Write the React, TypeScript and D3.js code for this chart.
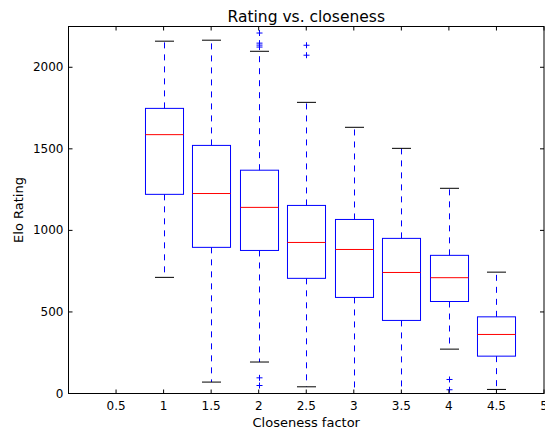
import React from "react";
import * as d3 from "d3";

// closeness factor for each box
const positions = [1, 1.5, 2, 2.5, 3, 3.5, 4, 4.5];
const whiskerLow = [712, 70, 193, 41, 0, 0, 272, 25];
const q1 = [1221, 896, 877, 706, 589, 448, 564, 229];
const median = [1587, 1226, 1141, 926, 883, 742, 710, 362];
const q3 = [1748, 1521, 1369, 1153, 1067, 951, 847, 470];
const whiskerHigh = [2160, 2166, 2098, 1785, 1632, 1503, 1258, 744];
const outliers = [
  [],
  [],
  [2210, 2148, 2136, 2124, 96, 49],
  [2135, 2074],
  [],
  [],
  [86, 23],
  [],
];

const xTicks = [0.5, 1, 1.5, 2, 2.5, 3, 3.5, 4, 4.5, 5];
const yTicks = [0, 500, 1000, 1500, 2000];

const W = 545;
const H = 432;
const margin = { top: 26.5, right: 1, bottom: 38.5, left: 68.5 };
const font = "'DejaVu Sans', sans-serif";

const App = () => {
  const x = d3
    .scaleLinear()
    .domain([0, 5])
    .range([margin.left, W - margin.right]);
  const y = d3
    .scaleLinear()
    .domain([0, 2250])
    .range([H - margin.bottom, margin.top]);

  const boxW = x(0.4) - x(0);
  const capW = x(0.2) - x(0);
  const blue = "#0000ff";

  return (
    <div style={{ position: "absolute", left: 0, top: 0 }}>
      <svg width={W} height={H} style={{ display: "block", background: "#fff" }}>
        {/* boxes */}
        {positions.map((p, i) => {
          const cx = Math.round(x(p)) + 0.5;
          return (
            <g key={p}>
              <line x1={cx} x2={cx} y1={y(q3[i])} y2={y(whiskerHigh[i])} stroke={blue} strokeDasharray="6,6" />
              <line x1={cx} x2={cx} y1={y(q1[i])} y2={y(whiskerLow[i])} stroke={blue} strokeDasharray="6,6" />
              <line x1={cx - capW / 2} x2={cx + capW / 2} y1={y(whiskerHigh[i])} y2={y(whiskerHigh[i])} stroke="#000" />
              <line x1={cx - capW / 2} x2={cx + capW / 2} y1={y(whiskerLow[i])} y2={y(whiskerLow[i])} stroke="#000" />
              <rect x={cx - boxW / 2} y={y(q3[i])} width={boxW} height={y(q1[i]) - y(q3[i])} fill="none" stroke={blue} />
              <line x1={cx - boxW / 2} x2={cx + boxW / 2} y1={y(median[i])} y2={y(median[i])} stroke="#ff0000" />
              {outliers[i].map((v, j) => (
                <path key={j} d={`M${cx - 3},${y(v)}h6M${cx},${y(v) - 3}v6`} stroke={blue} fill="none" />
              ))}
            </g>
          );
        })}

        {/* frame */}
        <rect
          x={margin.left}
          y={margin.top}
          width={W - margin.right - margin.left}
          height={H - margin.bottom - margin.top}
          fill="none"
          stroke="#000"
        />

        {/* x ticks */}
        {xTicks.map((t) => (
          <g key={t}>
            <line x1={x(t)} x2={x(t)} y1={y(0)} y2={y(0) - 4} stroke="#000" />
            <line x1={x(t)} x2={x(t)} y1={margin.top} y2={margin.top + 4} stroke="#000" />
            <text x={x(t)} y={y(0) + 16} textAnchor="middle" fontFamily={font} fontSize={12} fill="#000">
              {t}
            </text>
          </g>
        ))}

        {/* y ticks */}
        {yTicks.map((t) => (
          <g key={t}>
            <line x1={margin.left} x2={margin.left + 4} y1={y(t)} y2={y(t)} stroke="#000" />
            <line x1={W - margin.right} x2={W - margin.right - 4} y1={y(t)} y2={y(t)} stroke="#000" />
            <text x={margin.left - 5} y={y(t) + 4} textAnchor="end" fontFamily={font} fontSize={12} fill="#000">
              {t}
            </text>
          </g>
        ))}

        <text x={(margin.left + W - margin.right) / 2} y={21.5} textAnchor="middle" fontFamily={font} fontSize={15.5} fill="#000">
          Rating vs. closeness
        </text>
        <text x={(margin.left + W - margin.right) / 2} y={427} textAnchor="middle" fontFamily={font} fontSize={13} fill="#000">
          Closeness factor
        </text>
        <text
          transform={`translate(23,${(margin.top + H - margin.bottom) / 2}) rotate(-90)`}
          textAnchor="middle"
          fontFamily={font}
          fontSize={13}
          fill="#000"
        >
          Elo Rating
        </text>
      </svg>
    </div>
  );
};

export default App;
